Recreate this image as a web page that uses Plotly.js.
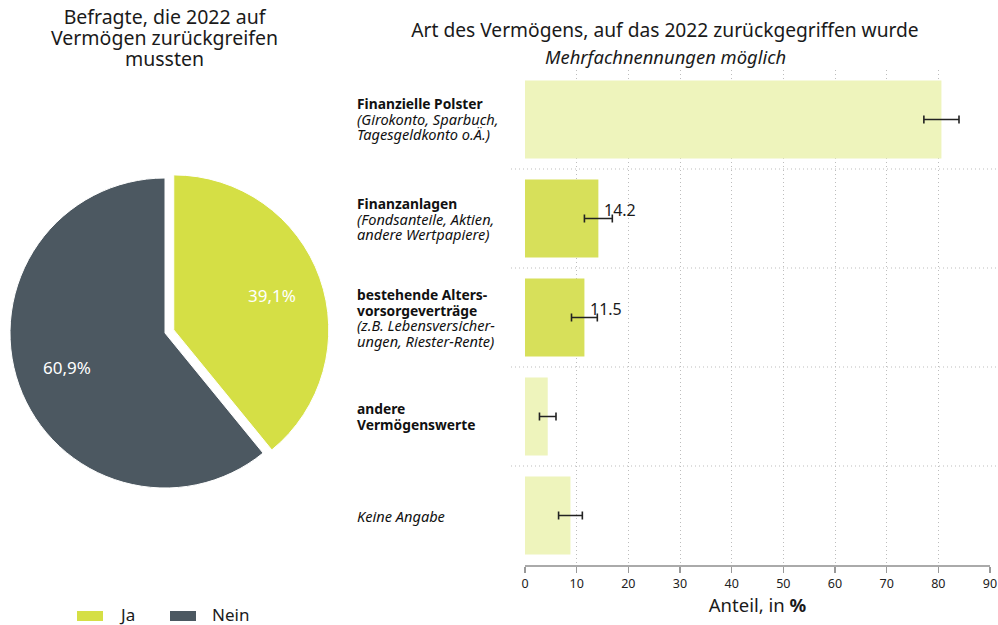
<!DOCTYPE html>
<html>
<head>
<meta charset="utf-8">
<script src="https://cdn.plot.ly/plotly-3.0.1.min.js"></script>
<style>
html,body{margin:0;padding:0;background:#fff;}
#chart{width:998px;height:625px;}
</style>
</head>
<body>
<div id="chart"></div>
<script>
// ---- Data ----
const pieLabels = ['Ja', 'Nein'];
const pieValues = [39.1, 60.9];
const pieText = ['39,1%', '60,9%'];
const pieColors = ['#d5df45', '#4c5861'];
const piePull = [0.06, 0];

const categories = ['polster', 'anlagen', 'alters', 'andere', 'keine'];
// each label: lines with style ('b' bold, 'i' italic)
const categoryLines = [
  [['b', 'Finanzielle Polster'], ['i', '(Girokonto, Sparbuch,'], ['i', 'Tagesgeldkonto o.Ä.)']],
  [['b', 'Finanzanlagen'], ['i', '(Fondsanteile, Aktien,'], ['i', 'andere Wertpapiere)']],
  [['b', 'bestehende Alters-'], ['b', 'vorsorgeverträge'], ['i', '(z.B. Lebensversicher-'], ['i', 'ungen, Riester-Rente)']],
  [['b', 'andere'], ['b', 'Vermögenswerte']],
  [['i', 'Keine Angabe']]
];
const barValues = [80.6, 14.2, 11.5, 4.4, 8.8];
const barErrors = [3.4, 2.7, 2.5, 1.6, 2.3];
const barShowLabel = [false, true, true, false, false];
const barColors = ['#eef4bc', '#d7e05a', '#d7e05a', '#eef4bc', '#eef4bc'];
const xTicks = [0, 10, 20, 30, 40, 50, 60, 70, 80, 90];

const pieTitleLines = ['Befragte, die 2022 auf', 'Vermögen zurückgreifen', 'mussten'];

const FONT = 'Noto Sans, Fira Sans, sans-serif';
const W = 998, H = 625;
const px = v => v / W;
const py = v => (H - v) / H;

// pie geometry (pixels)
const PIE_CX = 165, PIE_CY = 333, PIE_R = 155;
const maxPull = Math.max(...piePull);
const half = PIE_R * (1 + maxPull);

const pie = {
  type: 'pie',
  labels: pieLabels,
  values: pieValues,
  textinfo: 'none',
  marker: {colors: pieColors, line: {color: '#ffffff', width: 1}},
  sort: false,
  direction: 'clockwise',
  rotation: 0,
  pull: piePull,
  showlegend: false,
  hoverinfo: 'none',
  domain: {x: [px(PIE_CX - half), px(PIE_CX + half)], y: [py(PIE_CY + half), py(PIE_CY - half)]}
};

const bars = {
  type: 'bar',
  orientation: 'h',
  x: barValues,
  y: categories,
  marker: {color: barColors},
  error_x: {type: 'data', array: barErrors, visible: true, color: '#222222', thickness: 1.6, width: 4},
  width: 0.79,
  showlegend: false,
  hoverinfo: 'none',
  xaxis: 'x',
  yaxis: 'y'
};

const annotations = [];
// pie title: base font sets the (tight) line spacing, inner span sets glyph size
annotations.push({
  text: pieTitleLines.map(t => '<span style="font-size:19.5px">' + t + '</span>').join('<br>'),
  xref: 'paper', yref: 'paper', x: px(164), y: py(38),
  xanchor: 'center', yanchor: 'middle', align: 'center', showarrow: false,
  font: {family: FONT, size: 16.2, color: '#1a1a1a'}
});
// pie percentage labels, placed along each slice's bisector
const total = pieValues.reduce((a, b) => a + b, 0);
let acc = 0;
pieValues.forEach((v, i) => {
  const mid = (acc + v / 2) / total * 2 * Math.PI;
  acc += v;
  const dist = PIE_R * (0.67 + piePull[i]);
  const tx = PIE_CX + Math.sin(mid) * dist;
  const ty = PIE_CY - Math.cos(mid) * dist;
  annotations.push({
    text: pieText[i], xref: 'paper', yref: 'paper', x: px(tx), y: py(ty),
    xanchor: 'center', yanchor: 'middle', showarrow: false,
    font: {family: FONT, size: 17, color: '#ffffff'}
  });
});
// subtitle
annotations.push({
  text: '<i>Mehrfachnennungen möglich</i>',
  xref: 'paper', yref: 'paper', x: px(665), y: py(57), xanchor: 'center', yanchor: 'middle',
  showarrow: false, font: {family: FONT, size: 18.4, color: '#1a1a1a'}
});
// category labels: one annotation each, tight line spacing via base font size
categories.forEach((c, i) => {
  const html = categoryLines[i].map(ln => ln[0] === 'b'
    ? '<span style="font-size:13.8px"><b>' + ln[1] + '</b></span>'
    : '<span style="font-size:14.6px"><i>' + ln[1] + '</i></span>').join('<br>');
  annotations.push({
    text: html, xref: 'paper', yref: 'y', x: px(355), y: c,
    xanchor: 'left', yanchor: 'middle', align: 'left', showarrow: false,
    font: {family: FONT, size: 12, color: '#111111'}
  });
  if (barShowLabel[i]) {
    annotations.push({
      text: barValues[i].toFixed(1), xref: 'x', yref: 'y', x: barValues[i], y: c,
      xanchor: 'left', yanchor: 'middle', xshift: 4, yshift: 9, showarrow: false,
      font: {family: FONT, size: 16, color: '#1a1a1a'}
    });
  }
});
// legend labels
const legendX = [77, 170];
pieLabels.forEach((l, i) => {
  annotations.push({
    text: l, xref: 'paper', yref: 'paper', x: px(legendX[i] + 40), y: py(614),
    xanchor: 'left', yanchor: 'middle', showarrow: false,
    font: {family: FONT, size: 17, color: '#1a1a1a'}
  });
});

const shapes = [];
// category separators
for (let i = 1; i < categories.length; i++) {
  shapes.push({
    type: 'line', xref: 'paper', yref: 'y', x0: px(511), x1: px(998), y0: i - 0.5, y1: i - 0.5,
    line: {color: '#bdbdbd', width: 1, dash: '1px,3px'}
  });
}
// legend swatches
pieLabels.forEach((l, i) => {
  shapes.push({
    type: 'rect', xref: 'paper', yref: 'paper',
    x0: px(legendX[i]), x1: px(legendX[i] + 26), y0: py(611), y1: py(621),
    fillcolor: pieColors[i], line: {width: 0}
  });
});

const layout = {
  width: W, height: H,
  margin: {l: 0, r: 0, t: 0, b: 0},
  paper_bgcolor: '#ffffff',
  plot_bgcolor: '#ffffff',
  font: {family: FONT, color: '#1a1a1a'},
  title: {
    text: 'Art des Vermögens, auf das 2022 zurückgegriffen wurde',
    x: px(665), xanchor: 'center', xref: 'paper',
    y: py(30), yanchor: 'middle', yref: 'paper',
    font: {family: FONT, size: 19.2, color: '#1a1a1a'}
  },
  xaxis: {
    domain: [px(525), px(990)],
    range: [0, 90],
    tickvals: xTicks,
    ticktext: xTicks.map(String),
    ticks: 'outside', ticklen: 6, tickcolor: '#999999', tickwidth: 1.2,
    showline: true, linecolor: '#aaaaaa', linewidth: 1.5,
    showgrid: true, gridcolor: '#bdbdbd', griddash: '1px,3px', gridwidth: 1,
    zeroline: false,
    tickfont: {family: FONT, size: 12.5, color: '#222222'},
    title: {text: 'Anteil, in <b>%</b>', font: {family: FONT, size: 18.5, color: '#1a1a1a'}, standoff: 8},
    fixedrange: true
  },
  yaxis: {
    domain: [py(565), py(70)],
    type: 'category',
    categoryorder: 'array', categoryarray: categories,
    autorange: 'reversed',
    showticklabels: false, ticks: '', showgrid: false, zeroline: false, showline: false,
    fixedrange: true
  },
  bargap: 0.2,
  annotations: annotations,
  shapes: shapes,
  showlegend: false
};

Plotly.newPlot('chart', [pie, bars], layout, {displayModeBar: false, staticPlot: true});
</script>
</body>
</html>
